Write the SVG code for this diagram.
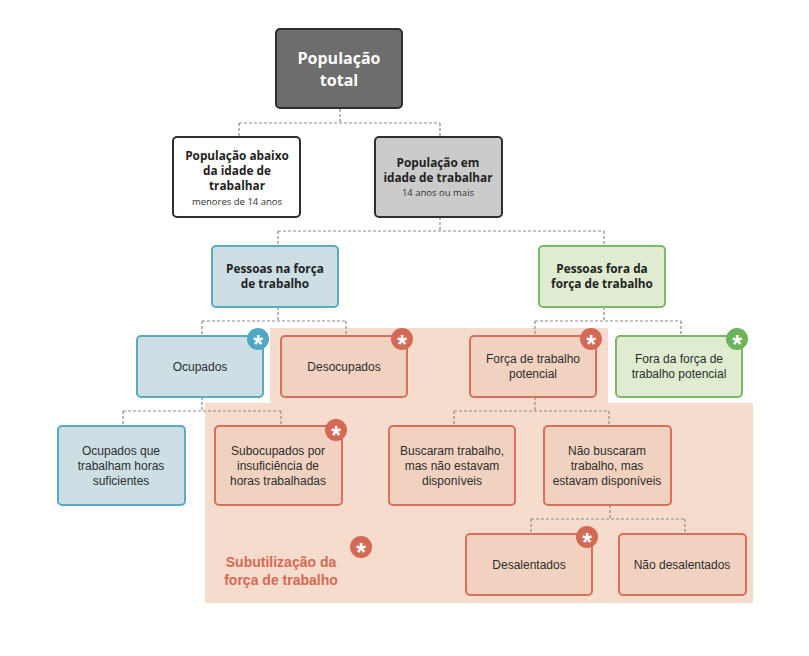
<svg xmlns="http://www.w3.org/2000/svg" width="809" height="656" viewBox="0 0 809 656">
<defs>
<style>
.conn{fill:none;stroke:#8a8a8a;stroke-width:1.2;stroke-dasharray:3 2}
.box{stroke-width:2}
.gray-dark{fill:#6d6d6d;stroke:#2e2e2e}
.white{fill:#ffffff;stroke:#2e2e2e}
.gray{fill:#cbcbcb;stroke:#2e2e2e}
.blue{fill:#cddee5;stroke:#5aaac1}
.green{fill:#dfeccf;stroke:#7bba68}
.orange{fill:#f1d2c0;stroke:#d6705b}
.tb{font-family:"Open Sans","Noto Sans",sans-serif;font-weight:bold;fill:#222;text-anchor:middle}
.ts{font-family:"Open Sans","Noto Sans",sans-serif;fill:#333;text-anchor:middle;font-size:9.5px}
.tr{font-family:"Liberation Sans",Arial,sans-serif;fill:#2d2d2d;text-anchor:middle;font-size:12px}
.badge-o{fill:#d36a55}
.badge-b{fill:#4fa7c2}
.badge-g{fill:#6db35c}
.ast{font-family:"Liberation Sans",Arial,sans-serif;font-weight:bold;fill:#fff;text-anchor:middle;font-size:25px}
</style>
</defs>
<rect width="809" height="656" fill="#ffffff"/>
<!-- subutilization background -->
<path d="M270 328 H608 V403 H753 V603 H205 V403 H270 Z" fill="#f6dccd"/>
<g id="connectors">
<path class="conn" d="M340 109 V123 M239 123 H440 M239 123 V137 M440 123 V137"/>
<path class="conn" d="M440 217 V231 M278 231 H604 M278 231 V246 M604 231 V246"/>
<path class="conn" d="M278 307 V321 M202 321 H346 M202 321 V336 M346 321 V336"/>
<path class="conn" d="M604 307 V321 M535 321 H681 M535 321 V336 M681 321 V336"/>
<path class="conn" d="M202 397 V411 M123 411 H281 M123 411 V426 M281 411 V426"/>
<path class="conn" d="M535 397 V411 M454 411 H609 M454 411 V426 M609 411 V426"/>
<path class="conn" d="M610 505 V519 M531 519 H685 M531 519 V534 M685 519 V534"/>
</g>
<g id="pop-total">
<rect class="box gray-dark" x="276" y="29" width="126" height="79" rx="4"/>
<text class="tb" x="339" y="64" font-size="16" style="fill:#fff">População</text>
<text class="tb" x="339" y="86" font-size="16" style="fill:#fff">total</text>
</g>
<g id="pop-abaixo">
<rect class="box white" x="173" y="137" width="127" height="80" rx="4"/>
<text class="tb" font-size="11.8" x="237" y="160">População abaixo</text>
<text class="tb" font-size="11.8" x="237" y="175">da idade de</text>
<text class="tb" font-size="11.8" x="237" y="190">trabalhar</text>
<text class="ts" x="237" y="205">menores de 14 anos</text>
</g>
<g id="pop-idade">
<rect class="box gray" x="375" y="137" width="127" height="80" rx="4"/>
<text class="tb" font-size="11.8" x="438" y="167">População em</text>
<text class="tb" font-size="11.8" x="438" y="182">idade de trabalhar</text>
<text class="ts" x="438" y="196">14 anos ou mais</text>
</g>
<g id="forca">
<rect class="box blue" x="212" y="246" width="126" height="61" rx="4"/>
<text class="tb" font-size="11.8" x="275" y="273">Pessoas na força</text>
<text class="tb" font-size="11.8" x="275" y="288">de trabalho</text>
</g>
<g id="fora">
<rect class="box green" x="539" y="246" width="126" height="61" rx="4"/>
<text class="tb" font-size="11.8" x="602" y="273">Pessoas fora da</text>
<text class="tb" font-size="11.8" x="602" y="288">força de trabalho</text>
</g>
<g id="ocupados">
<rect class="box blue" x="137" y="336" width="126" height="61" rx="4"/>
<text class="tr" x="200" y="371">Ocupados</text>
<circle class="badge-b" cx="258" cy="339" r="11"/>
<text class="ast" x="258" y="353">*</text>
</g>
<g id="desocupados">
<rect class="box orange" x="281" y="336" width="126" height="61" rx="4"/>
<text class="tr" x="344" y="371">Desocupados</text>
<circle class="badge-o" cx="402" cy="339" r="11"/>
<text class="ast" x="402" y="353">*</text>
</g>
<g id="forca-potencial">
<rect class="box orange" x="470" y="336" width="126" height="61" rx="4"/>
<text class="tr" x="533" y="363">Força de trabalho</text>
<text class="tr" x="533" y="378">potencial</text>
<circle class="badge-o" cx="591" cy="339" r="11"/>
<text class="ast" x="591" y="353">*</text>
</g>
<g id="fora-potencial">
<rect class="box green" x="616" y="336" width="126" height="61" rx="4"/>
<text class="tr" x="679" y="363">Fora da força de</text>
<text class="tr" x="679" y="378">trabalho potencial</text>
<circle class="badge-g" cx="737" cy="339" r="11"/>
<text class="ast" x="737" y="353">*</text>
</g>
<g id="ocupados-suficientes">
<rect class="box blue" x="58" y="426" width="127" height="79" rx="4"/>
<text class="tr" x="121" y="455">Ocupados que</text>
<text class="tr" x="121" y="470">trabalham horas</text>
<text class="tr" x="121" y="485">suficientes</text>
</g>
<g id="subocupados">
<rect class="box orange" x="215" y="426" width="127" height="79" rx="4"/>
<text class="tr" x="278" y="455">Subocupados por</text>
<text class="tr" x="278" y="470">insuficiência de</text>
<text class="tr" x="278" y="485">horas trabalhadas</text>
<circle class="badge-o" cx="336" cy="430" r="11"/>
<text class="ast" x="336" y="444">*</text>
</g>
<g id="buscaram">
<rect class="box orange" x="389" y="426" width="126" height="79" rx="4"/>
<text class="tr" x="452" y="455">Buscaram trabalho,</text>
<text class="tr" x="452" y="470">mas não estavam</text>
<text class="tr" x="452" y="485">disponíveis</text>
</g>
<g id="nao-buscaram">
<rect class="box orange" x="544" y="426" width="127" height="79" rx="4"/>
<text class="tr" x="607" y="455">Não buscaram</text>
<text class="tr" x="607" y="470">trabalho, mas</text>
<text class="tr" x="607" y="485">estavam disponíveis</text>
</g>
<g id="desalentados">
<rect class="box orange" x="466" y="534" width="126" height="61" rx="4"/>
<text class="tr" x="529" y="569">Desalentados</text>
<circle class="badge-o" cx="587" cy="537" r="11"/>
<text class="ast" x="587" y="551">*</text>
</g>
<g id="nao-desalentados">
<rect class="box orange" x="619" y="534" width="127" height="61" rx="4"/>
<text class="tr" x="682" y="569">Não desalentados</text>
</g>
<g id="legend">
<text x="281" y="567" font-family="Liberation Sans, Arial, sans-serif" font-weight="bold" font-size="14" fill="#d36a55" text-anchor="middle">Subutilização da</text>
<text x="281" y="585" font-family="Liberation Sans, Arial, sans-serif" font-weight="bold" font-size="14" fill="#d36a55" text-anchor="middle">força de trabalho</text>
<circle class="badge-o" cx="361" cy="547" r="11"/>
<text class="ast" x="361" y="561">*</text>
</g>
</svg>
